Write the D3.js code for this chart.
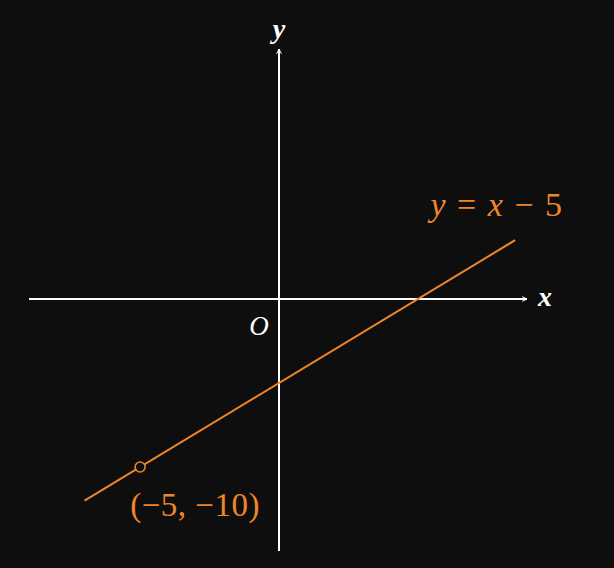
<!DOCTYPE html>
<html><head><meta charset="utf-8">
<script src="https://cdn.jsdelivr.net/npm/d3@7"></script>
<style>html,body{margin:0;padding:0;background:#0e0e0e;}svg{display:block;}</style>
</head><body>
<svg id="c" width="614" height="568"></svg>
<script>
const xDomain = [-9, 9];
const yDomain = [-15, 15];
const lineX = [-7, 8.5];
const slope = 1, intercept = -5;
const pointX = [-5];
const pointY = [-10];
const lineLabel = "y = x − 5";
const pointLabel = "(−5, −10)";

const W = 614, H = 568;
const svg = d3.select("#c");
svg.append("rect").attr("width", W).attr("height", H).attr("fill", "#0e0e0e");
const x = d3.scaleLinear().domain(xDomain).range([29, 529]);
const y = d3.scaleLinear().domain(yDomain).range([551, 47]);
const orange = "#f0862a";
const defs = svg.append("defs");
defs.append("marker").attr("id","arr").attr("viewBox","0 0 10 10").attr("refX",9).attr("refY",5)
  .attr("markerWidth",6).attr("markerHeight",6).attr("markerUnits","userSpaceOnUse").attr("orient","auto")
  .append("path").attr("d","M1,1 L9,5 L1,9").attr("fill","none").attr("stroke","#fff").attr("stroke-width",1.6);

// axes
svg.append("line").attr("x1", x(xDomain[0])).attr("x2", x(xDomain[1])-2)
  .attr("y1", y(0)).attr("y2", y(0)).attr("stroke","#fff").attr("stroke-width",2).attr("marker-end","url(#arr)");
svg.append("line").attr("x1", x(0)).attr("x2", x(0))
  .attr("y1", y(yDomain[0])).attr("y2", y(yDomain[1])+2).attr("stroke","#fff").attr("stroke-width",2).attr("marker-end","url(#arr)");

const serif = "'Liberation Serif','DejaVu Serif',serif";
svg.append("text").attr("x", x(xDomain[1])+16).attr("y", y(0)+7).text("x")
  .attr("fill","#fff").attr("font-family",serif).attr("font-style","italic").attr("font-size",28).attr("text-anchor","middle").attr("font-weight","bold");
svg.append("text").attr("x", x(0)).attr("y", 38).text("y")
  .attr("fill","#fff").attr("font-family",serif).attr("font-style","italic").attr("font-size",28).attr("text-anchor","middle").attr("font-weight","bold");
svg.append("text").attr("x", x(0)-20).attr("y", y(0)+36).text("O")
  .attr("fill","#fff").attr("font-family",serif).attr("font-style","italic").attr("font-size",27).attr("text-anchor","middle");

// line
const pts = lineX.map(v => [v, slope*v + intercept]);
svg.append("path").datum(pts)
  .attr("d", d3.line().x(d => x(d[0])).y(d => y(d[1])))
  .attr("stroke", orange).attr("stroke-width", 2).attr("fill","none");

svg.selectAll("circle.p").data(pointX).join("circle").attr("class","p")
  .attr("cx", d => x(d)).attr("cy", (d,i) => y(pointY[i])).attr("r", 5)
  .attr("fill","#0e0e0e").attr("stroke", orange).attr("stroke-width",1.6);

// labels
const lt = svg.append("text").attr("x", 497).attr("y", 216).attr("fill", orange)
  .attr("font-family",serif).attr("font-size",34).attr("text-anchor","middle").attr("letter-spacing", 1.5);
lt.append("tspan").attr("font-style","italic").text("y");
lt.append("tspan").text(" = ");
lt.append("tspan").attr("font-style","italic").text("x");
lt.append("tspan").text(" − 5");

svg.append("text").attr("x", x(pointX[0])+55).attr("y", y(pointY[0])+49).text(pointLabel)
  .attr("fill", orange).attr("font-family",serif).attr("font-size",33).attr("text-anchor","middle")
  .attr("letter-spacing", 0.5);
</script>
</body></html>
